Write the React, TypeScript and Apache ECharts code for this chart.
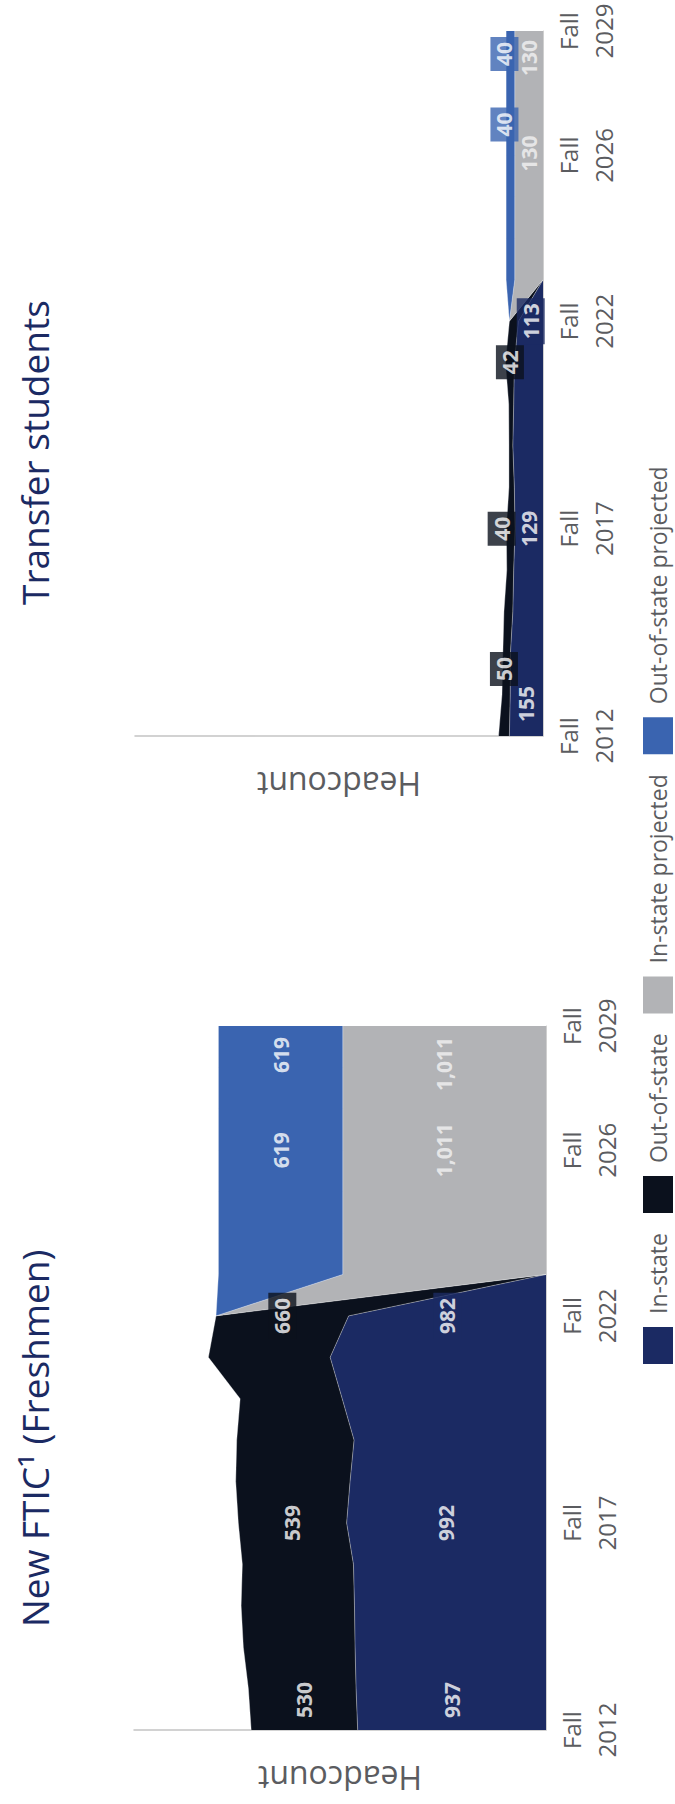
import React, { useEffect, useRef } from 'react';
import * as echarts from 'echarts';

// ---------- data ----------
const years = ['2012','2013','2014','2015','2016','2017','2018','2019','2020','2021','2022','2023','2024','2025','2026','2027','2028','2029'];
const tickYears = ['2012','2017','2022','2026','2029'];
const seriesNames = ['In-state','Out-of-state','In-state projected','Out-of-state projected'];

const N = null;
const fticInState = [937, 945, 950, 953, 958, 992, 975, 955, 1014, 1074, 982, 0, N, N, N, N, N, N];
const fticOutOfState = [530, 536, 556, 564, 553, 539, 569, 584, 508, 606, 660, 0, N, N, N, N, N, N];
const fticInStateProjected = [N, N, N, N, N, N, N, N, N, N, 0, 1011, 1011, 1011, 1011, 1011, 1011, 1011];
const fticOutOfStateProjected = [N, N, N, N, N, N, N, N, N, N, 0, 619, 619, 619, 619, 619, 619, 619];

const transferInState = [155, 151, 150, 139, 135, 129, 132, 139, 135, 132, 113, 0, N, N, N, N, N, N];
const transferOutOfState = [50, 38, 35, 41, 32, 40, 25, 18, 23, 41, 42, 0, N, N, N, N, N, N];
const transferInStateProjected = [N, N, N, N, N, N, N, N, N, N, 0, 130, 130, 130, 130, 130, 130, 130];
const transferOutOfStateProjected = [N, N, N, N, N, N, N, N, N, N, 0, 40, 40, 40, 40, 40, 40, 40];

// ---------- styles ----------
const FONT = "'Open Sans', 'Noto Sans', sans-serif";
const NAVY = '#1b2a63';
const BLACK = '#0b111d';
const GRAY = '#b2b3b6';
const BLUE = '#3a64b0';
const COLORS = [NAVY, BLACK, GRAY, BLUE];
const TEXT_GRAY = '#5b5c60';

type Spec = { i: number; align?: 'left' | 'right' | 'center'; dx?: number; dy?: number; box?: string; color?: string };

const fmt = (v: number) => v.toLocaleString('en-US');

function buildChart(gridIndex: number, data: (number | null)[][], specs: Spec[][]) {
  const series: any[] = [];
  data.forEach((arr, si) => {
    series.push({
      name: seriesNames[si],
      type: 'line',
      xAxisIndex: gridIndex,
      yAxisIndex: gridIndex,
      stack: 'total' + gridIndex,
      data: arr,
      symbol: 'none',
      showSymbol: false,
      connectNulls: false,
      lineStyle: { width: 1, color: 'rgba(255,255,255,0.35)' },
      itemStyle: { color: COLORS[si] },
      areaStyle: { color: COLORS[si], opacity: 1 },
      silent: true,
      z: 2,
    });
  });
  data.forEach((arr, si) => {
    const items = specs[si].map((s) => {
      let base = 0;
      for (let k = 0; k < si; k++) base += data[k][s.i] ?? 0;
      const v = arr[s.i] as number;
      const mid = base + v / 2;
      const label: any = {
        show: true,
        position: 'inside',
        formatter: fmt(v),
        color: s.color || '#ffffff',
        fontFamily: FONT,
        fontSize: 21,
        fontWeight: 'bold',
        align: s.align || 'center',
        verticalAlign: 'middle',
        offset: [s.dx || 0, s.dy || 0],
      };
      if (s.box) {
        label.backgroundColor = s.box;
        label.padding = [4, 5, 3, 5];
      }
      return { value: [s.i, mid], label };
    });
    series.push({
      name: 'labels-' + gridIndex + '-' + si,
      type: 'scatter',
      xAxisIndex: gridIndex,
      yAxisIndex: gridIndex,
      symbolSize: 0,
      data: items,
      silent: true,
      z: 5,
    });
  });
  return series;
}

export default function App() {
  const ref = useRef<HTMLDivElement>(null);
  useEffect(() => {
    if (!ref.current) return;
    const chart = echarts.init(ref.current, undefined, { renderer: 'svg' });

    const fticSeries = buildChart(
      0,
      [fticInState, fticOutOfState, fticInStateProjected, fticOutOfStateProjected],
      [
        [{ i: 0, align: 'left', dx: 12 }, { i: 5 }, { i: 10, box: NAVY }],
        [{ i: 0, align: 'left', dx: 12 }, { i: 5 }, { i: 10, box: BLACK }],
        [{ i: 14, color: '#f4f4f4' }, { i: 17, align: 'right', dx: -11, color: '#f4f4f4' }],
        [{ i: 14 }, { i: 17, align: 'right', dx: -11 }],
      ]
    );
    const transferSeries = buildChart(
      1,
      [transferInState, transferOutOfState, transferInStateProjected, transferOutOfStateProjected],
      [
        [{ i: 0, align: 'left', dx: 14 }, { i: 5 }, { i: 10, box: NAVY }],
        [{ i: 0, dx: 67, box: BLACK }, { i: 5, dy: -9, box: BLACK }, { i: 10, dx: -41, dy: -4, box: BLACK }],
        [{ i: 14, dx: 2, color: '#f4f4f4' }, { i: 17, align: 'right', dx: -9, color: '#f4f4f4' }],
        [{ i: 14, dx: 31, dy: -6, box: BLUE }, { i: 17, align: 'right', dx: -6, dy: -6, box: BLUE }],
      ]
    );

    const catAxis = (gridIndex: number) => ({
      type: 'category',
      gridIndex,
      data: years.map((y) => 'Fall\n' + y),
      boundaryGap: false,
      axisTick: { show: false },
      axisLine: { show: true, lineStyle: { color: '#cfcfcf', width: 1 } },
      axisLabel: {
        interval: (index: number) => tickYears.includes(years[index]),
        color: TEXT_GRAY,
        fontFamily: FONT,
        fontSize: 24,
        lineHeight: 35,
        margin: 8,
      },
      splitLine: { show: false },
    });
    const valAxis = (gridIndex: number, max: number) => ({
      type: 'value',
      gridIndex,
      min: 0,
      max,
      name: 'Headcount',
      nameLocation: 'middle',
      nameGap: 32,
      nameTextStyle: { color: TEXT_GRAY, fontFamily: FONT, fontSize: 32 },
      axisLabel: { show: false },
      axisTick: { show: false },
      splitLine: { show: false },
      axisLine: { show: true, lineStyle: { color: '#c4c4c4', width: 1.5 } },
    });

    chart.setOption({
      animation: false,
      backgroundColor: '#ffffff',
      title: [
        {
          text: 'New FTIC¹ (Freshmen)',
          left: 172,
          top: 11,
          textStyle: { color: NAVY, fontFamily: FONT, fontSize: 37, fontWeight: 'normal' },
        },
        {
          text: 'Transfer students',
          left: 1194,
          top: 11,
          textStyle: { color: NAVY, fontFamily: FONT, fontSize: 37, fontWeight: 'normal' },
        },
      ],
      legend: {
        data: seriesNames,
        left: 440,
        top: 643,
        padding: 0,
        itemWidth: 37,
        itemHeight: 30,
        itemGap: 20,
        icon: 'rect',
        selectedMode: false,
        textStyle: { color: TEXT_GRAY, fontFamily: FONT, fontSize: 23, lineHeight: 23, padding: [0, 0, 0, 8] },
      },
      grid: [
        { left: 74, top: 134, width: 704, height: 412 },
        { left: 1068, top: 135, width: 705, height: 408 },
      ],
      xAxis: [catAxis(0), catAxis(1)],
      yAxis: [valAxis(0, 2050), valAxis(1, 1880)],
      series: [...fticSeries, ...transferSeries],
    });
    return () => chart.dispose();
  }, []);

  return (
    <div style={{ position: 'absolute', left: 0, top: 0, width: 675, height: 1804, overflow: 'hidden', background: '#fff' }}>
      <div
        ref={ref}
        style={{
          position: 'absolute',
          left: 0,
          top: 0,
          width: 1804,
          height: 675,
          transformOrigin: '0 0',
          transform: 'rotate(-90deg) translateX(-1804px)',
        }}
      />
    </div>
  );
}
